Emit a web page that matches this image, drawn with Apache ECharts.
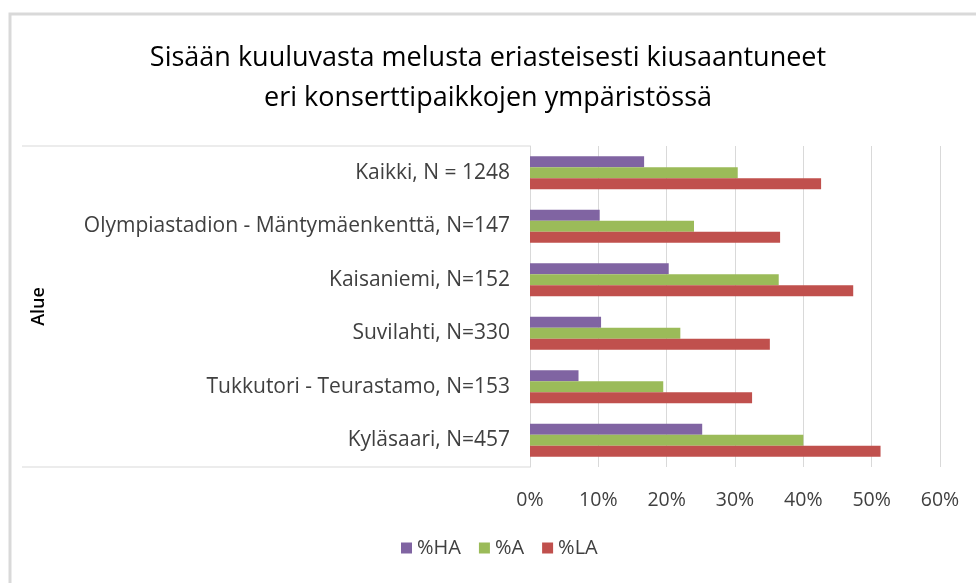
<!DOCTYPE html>
<html>
<head>
<meta charset="utf-8">
<script src="https://cdn.jsdelivr.net/npm/echarts@6/dist/echarts.min.js"></script>
<style>
  html, body { margin: 0; padding: 0; background: #fff; }
  #chart { width: 976px; height: 583px; }
</style>
</head>
<body>
<div id="chart"></div>
<script>
// kategoriat ylhäältä alas
const categories = [
    'Kaikki, N = 1248',
    'Olympiastadion - Mäntymäenkenttä, N=147',
    'Kaisaniemi, N=152',
    'Suvilahti, N=330',
    'Tukkutori - Teurastamo, N=153',
    'Kyläsaari, N=457'
];
const seriesNames = ['%HA', '%A', '%LA'];
const haValues = [16.7, 10.2, 20.3, 10.4, 7.1, 25.2];
const aValues = [30.4, 24.0, 36.4, 22.0, 19.5, 40.0];
const laValues = [42.6, 36.6, 47.3, 35.1, 32.5, 51.3];
const xTicks = [0, 10, 20, 30, 40, 50, 60];

const colors = ['#8064A2', '#9BBB59', '#C0504D'];
const font = '"Open Sans", "Noto Sans", sans-serif';

const chart = echarts.init(document.getElementById('chart'));

const option = {
    animation: false,
    textStyle: { fontFamily: font },
    title: {
        text: 'Sisään kuuluvasta melusta eriasteisesti kiusaantuneet\neri konserttipaikkojen ympäristössä',
        left: 'center',
        top: 33,
        textStyle: {
            fontFamily: font,
            fontSize: 27,
            fontWeight: 'normal',
            color: '#000',
            lineHeight: 40
        }
    },
    legend: {
        data: seriesNames,
        bottom: 20,
        left: 396,
        itemWidth: 11,
        itemHeight: 11,
        itemGap: 18,
        icon: 'rect',
        textStyle: { fontFamily: font, fontSize: 20, color: '#404040' }
    },
    grid: {
        left: 530,
        right: 36,
        top: 146,
        bottom: 116,
        containLabel: false
    },
    xAxis: {
        type: 'value',
        min: 0,
        max: 60,
        interval: 10,
        axisLine: { show: false },
        axisTick: { show: false },
        splitLine: { lineStyle: { color: '#d9d9d9', width: 1 } },
        axisLabel: {
            margin: 23,
            fontSize: 19.5,
            color: '#404040',
            fontFamily: font,
            formatter: function (v) { return xTicks.indexOf(v) >= 0 ? v + '%' : ''; }
        }
    },
    yAxis: {
        type: 'category',
        data: categories,
        inverse: true,
        name: 'Alue',
        nameLocation: 'middle',
        nameGap: 482,
        nameRotate: 90,
        nameTextStyle: { fontFamily: font, fontSize: 18, fontWeight: 600, color: '#000' },
        axisLine: { show: true, lineStyle: { color: '#d9d9d9', width: 1 } },
        axisTick: { show: false },
        axisLabel: {
            margin: 20,
            fontSize: 21,
            color: '#404040',
            fontFamily: font
        }
    },
    series: [
        { name: seriesNames[0], type: 'bar', data: haValues },
        { name: seriesNames[1], type: 'bar', data: aValues },
        { name: seriesNames[2], type: 'bar', data: laValues }
    ].map(function (s, i) {
        s.barWidth = 11;
        s.barGap = '0%';
        s.itemStyle = { color: colors[i] };
        return s;
    }),
    graphic: [
        // ulkoreunus
        {
            type: 'polyline',
            shape: { points: [[10, 583], [10, 14], [976, 14]] },
            style: { stroke: '#d9d9d9', lineWidth: 3, fill: null }
        },
        // kategoria-alueen viivat
        {
            type: 'line',
            shape: { x1: 22, y1: 146, x2: 530, y2: 146 },
            style: { stroke: '#d9d9d9', lineWidth: 1 }
        },
        {
            type: 'line',
            shape: { x1: 22, y1: 467, x2: 530, y2: 467 },
            style: { stroke: '#d9d9d9', lineWidth: 1 }
        }
    ]
};

chart.setOption(option);
</script>
</body>
</html>
